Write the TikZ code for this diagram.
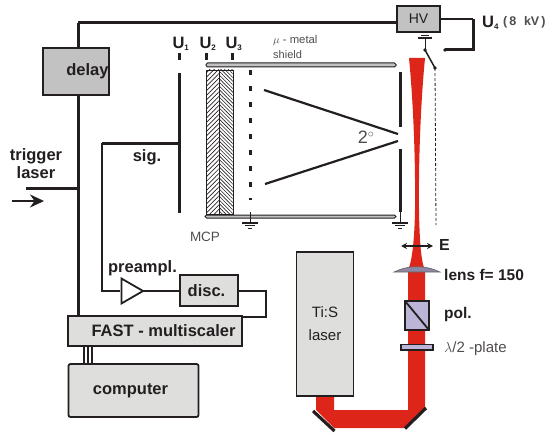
\documentclass[tikz,border=0pt]{standalone}
\usepackage{amsmath}
\usepackage{fontspec}
\setmainfont{Liberation Sans}
\usetikzlibrary{calc,positioning,arrows,arrows.meta,shapes.geometric,patterns.meta}
\definecolor{beamred}{HTML}{DD251A}
\definecolor{boxgrey}{HTML}{C2C2C2}
\definecolor{lightbox}{HTML}{DEDEDC}
\definecolor{inkblack}{HTML}{231F20}
\definecolor{optic}{HTML}{BDB5D8}
\tikzset{
>=stealth',
  box/.style={
    rectangle,
    draw=inkblack, line width=1.8pt,
    fill=lightbox,
    inner sep=0pt,
    text=inkblack,
    font=\bfseries\fontsize{16.5}{18}\selectfont},
  darkbox/.style={box, fill=boxgrey},
  wire/.style={draw=inkblack, line width=1.9pt},
  wirethick/.style={draw=inkblack, line width=3pt},
  plate/.style={draw=inkblack, line width=3pt},
  shield/.style={draw=inkblack, fill=boxgrey, line width=1pt, rounded corners=1.5pt},
  boldlabel/.style={inner sep=0pt, text=inkblack, font=\bfseries\fontsize{16.5}{18}\selectfont, align=center},
  greylabel/.style={inner sep=0pt, text=inkblack!80, font=\fontsize{13.5}{15}\selectfont},
  groundline/.style={draw=inkblack, line width=.8pt},
}
\begin{document}
\begin{tikzpicture}[x=1pt,y=-1pt]
  \useasboundingbox (0,0) rectangle (553,433);
  % laser beam
  \fill[beamred] (409,58) -- (425,58) .. controls (420,110) and (418.5,170) .. (419,210)
    .. controls (419.5,240) and (421,262) .. (425,270) -- (425,408) -- (405,428) -- (334,428)
    -- (316,410) -- (316,396) -- (334,396) -- (334,410) -- (408,410) -- (408,270)
    .. controls (412,262) and (414.5,240) .. (415,210)
    .. controls (415.5,170) and (414,110) .. (409,58) -- cycle;
  % coordinates
  \coordinate (topleft) at (78,23);
  \coordinate (trigend) at (26,188);
  \coordinate (trigjoin) at (78,188);
  \coordinate (leftend) at (78,316);
  \coordinate (sigjoin) at (179,143);
  \coordinate (sigcorner) at (102,143);
  \coordinate (preinleft) at (102,291);
  \coordinate (discright) at (266,291);
  \coordinate (fastright) at (266,317);
  \coordinate (hvright) at (473,19);
  \coordinate (hvdown) at (473,50);
  \coordinate (switchb) at (445,50);
  \coordinate (switcha) at (425,50);
  \coordinate (switchend) at (435,68);
  \coordinate (dashend) at (436,225);
  % wires
  \draw[wirethick] (topleft) -- (397,23);
  \draw[wirethick] (topleft) -- (leftend);
  \draw[wirethick] (trigend) -- (trigjoin);
  \draw[wire] (sigcorner) -- (preinleft) -- (120,291);
  \draw[wirethick] (sigcorner) -- (sigjoin);
  \draw[wire] (143,291) -- (180,291);
  \draw[wire] (238,291) -- (discright) -- (fastright) -- (241,317);
  \draw[-{Stealth[length=14pt,width=13pt]}, line width=2.5pt, inkblack] (12,201) -- (44,201);
  \foreach \xpos in {84,88,92}
    \draw[wire, line width=2.2pt] (\xpos,346) -- (\xpos,365);
  % boxes
  \node[darkbox, minimum width=66pt, minimum height=47pt] (delay) at (76,71.5) {\hspace*{23pt}delay};
  \node[darkbox, minimum width=43pt, minimum height=26pt, font=\fontsize{14}{16}\selectfont] (hv) at (418.5,19) {HV};
  \node[box, minimum width=58pt, minimum height=31pt] (disc) at (209,290.5) {\hspace*{-5pt}disc.};
  \node[box, minimum width=174pt, minimum height=30pt] (fast) at (155,331) {\hspace*{17pt}FAST - multiscaler};
  \node[box, rounded corners=2pt, minimum width=130pt, minimum height=53pt] (computer) at (133.5,390.5) {\hspace*{-6pt}computer};
  \node[box, minimum width=57pt, minimum height=144pt, align=center, font=\fontsize{15}{17}\selectfont] (tis) at (325,324) {Ti:S\\[6pt]laser};
  \node[draw=inkblack, line width=1.8pt, fill=white, isosceles triangle, isosceles triangle apex angle=60,
    minimum height=21pt, inner sep=0pt, minimum width=25pt, anchor=lower side] (preamp) at (120.5,291) {};
  % high voltage and switch
  \draw[wire] (hv.east) -- (hvright);
  \draw[wirethick] (hvright) -- (hvdown) -- (switchb);
  \fill[inkblack] (switchb) circle (1.9pt) (switcha) circle (1.9pt) (switchend) circle (1.9pt);
  \draw[wire, line width=1.5pt] (switcha) -- (switchend);
  \draw[wire, line width=.8pt] (switcha) -- (425,38);
  \draw[groundline, line width=1.2pt] (418,38) -- (432,38);
  \draw[groundline] (421,35.5) -- (429,35.5);
  \draw[inkblack, densely dashed, line width=.8pt] (switchend) -- (dashend);
  % detector plates
  \draw[plate] (179,73) -- (179,213);
  \draw[plate] (179,53) -- (179,60);
  \draw[plate] (206,53) -- (206,60);
  \draw[plate] (232.5,53) -- (232.5,60);
  \path[shield] (206,63) rectangle (396,67);
  % MCP
  \draw[inkblack, line width=.8pt, pattern={Lines[angle=45,distance=3.2pt,line width=.7pt]}, pattern color=inkblack] (206,70) rectangle (219,214);
  \draw[inkblack, line width=.8pt, pattern={Lines[angle=-45,distance=2.6pt,line width=.6pt]}, pattern color=inkblack] (219,70) rectangle (233,214);
  \path[shield] (205,215) rectangle (396,218);
  % grid and cone
  \draw[inkblack, line width=3pt, dash pattern=on 5pt off 11pt] (250,70) -- (250,200);
  \draw[inkblack, line width=2.2pt] (264,90) -- (398,134);
  \draw[inkblack, line width=2.2pt] (265,184) -- (398,141);
  \draw[plate] (400,72) -- (400,127);
  \draw[plate] (400,149) -- (400,212);
  % grounds
  \foreach \xpos in {250,400} {
    \draw[groundline] (\xpos,212) -- (\xpos,223);
    \draw[groundline, line width=1.2pt] (\xpos-8,223) -- (\xpos+8,223);
    \draw[groundline] (\xpos-5,225.5) -- (\xpos+5,225.5);
    \draw[groundline] (\xpos-2,228) -- (\xpos+2,228);
  }
  % optics
  \draw[{Stealth[length=6pt,width=6pt]}-{Stealth[length=6pt,width=6pt]}, inkblack, line width=1.2pt] (401,246) -- (433,246);
  \draw[draw=inkblack!70, fill=optic!75!black, line width=.6pt] (394,272) .. controls (408,265) and (426,265) .. (440,272) -- cycle;
  \draw[draw=inkblack, fill=optic, line width=2pt] (405,301) rectangle (429,330);
  \draw[inkblack, line width=1.8pt] (405,301) -- (429,330);
  \draw[draw=inkblack, fill=optic, line width=1.8pt] (401,344.5) rectangle (433,350);
  % mirrors
  \draw[inkblack, line width=3.2pt] (313,411) -- (334.5,431);
  \draw[inkblack, line width=3.2pt] (405,428.5) -- (426,408);
  % labels
  \node[boldlabel] (u1) at (181,44) {U\textsubscript{\fontsize{8}{8}\selectfont 1}};
  \node[boldlabel] (u2) at (208,44) {U\textsubscript{\fontsize{8}{8}\selectfont 2}};
  \node[boldlabel] (u3) at (234,44) {U\textsubscript{\fontsize{8}{8}\selectfont 3}};
  \node[boldlabel, anchor=west] (u4) at (482,23) {U\textsubscript{\fontsize{8}{8}\selectfont 4}};
  \node[greylabel, anchor=west, font=\bfseries\fontsize{12.5}{14}\selectfont] (kv) at (503,22) {(\,8\, \,kV\,)};
  \node[greylabel, anchor=west, font=\fontsize{11.3}{13}\selectfont] (mu) at (273,40) {$\mu$ - metal};
  \node[greylabel, anchor=west, font=\fontsize{11}{13}\selectfont] (shieldtext) at (273,55) {shield};
  \node[boldlabel] (trig) at (36,164) {trigger\\laser};
  \node[boldlabel] (sig) at (147,157) {sig.};
  \node[boldlabel] (pre) at (142.5,268) {preampl.};
  \node[greylabel] (mcp) at (205,237) {MCP};
  \node[greylabel, font=\fontsize{18}{20}\selectfont] (angle) at (366,137) {2$^\circ$};
  \node[boldlabel, anchor=west, font=\bfseries\fontsize{16}{18}\selectfont] (field) at (439,245) {E};
  \node[boldlabel, anchor=west, font=\bfseries\fontsize{15.5}{18}\selectfont] (lens) at (444,275) {lens f= 150};
  \node[boldlabel, anchor=west, font=\bfseries\fontsize{15.5}{18}\selectfont] (pol) at (444,314) {pol.};
  \node[greylabel, anchor=west, font=\fontsize{15}{17}\selectfont] (lambda) at (444,349) {$\lambda$/2 -plate};
\end{tikzpicture}
\end{document}
